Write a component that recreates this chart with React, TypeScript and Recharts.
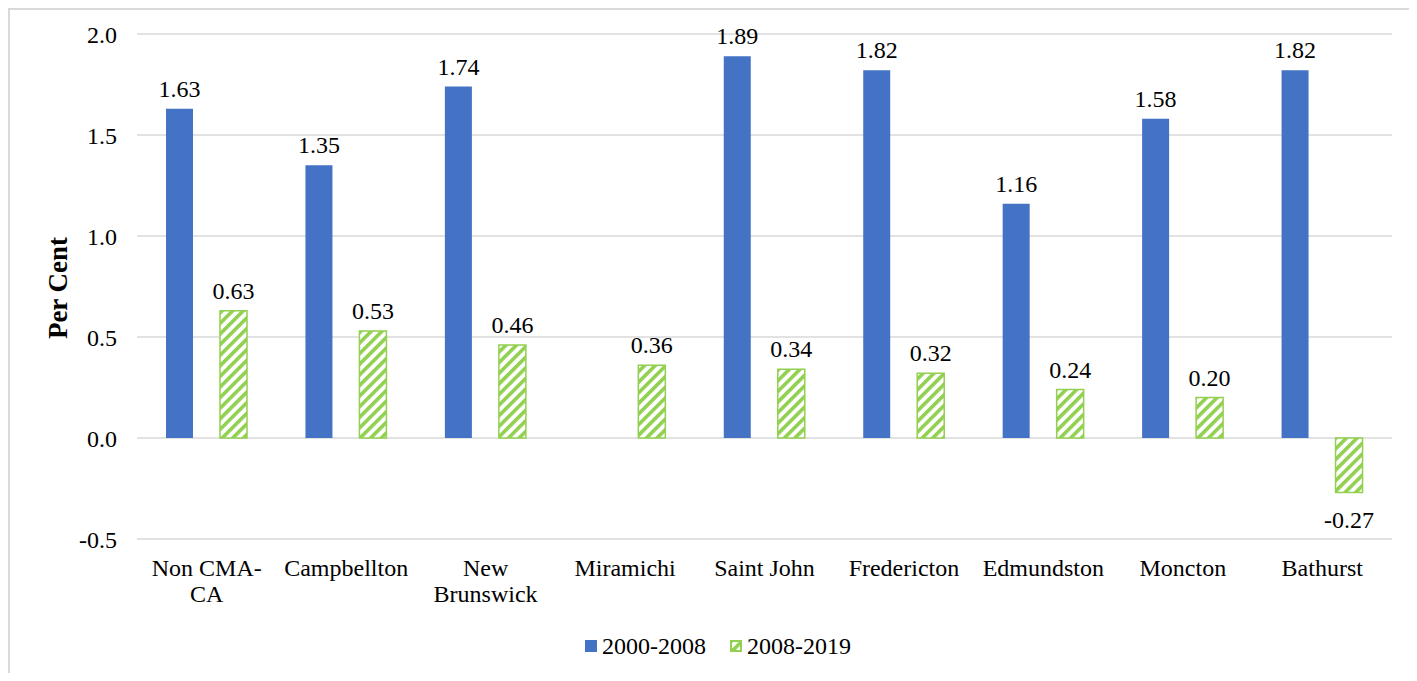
import { BarChart, Bar, XAxis, YAxis, CartesianGrid, LabelList, Legend } from 'recharts';

const categories = ['Non CMA-CA', 'Campbellton', 'New Brunswick', 'Miramichi', 'Saint John', 'Fredericton', 'Edmundston', 'Moncton', 'Bathurst'];
const period2000 = [1.63, 1.35, 1.74, null, 1.89, 1.82, 1.16, 1.58, 1.82];
const period2008 = [0.63, 0.53, 0.46, 0.36, 0.34, 0.32, 0.24, 0.2, -0.27];
const yTicks = [-0.5, 0, 0.5, 1.0, 1.5, 2.0];

// wrapped x labels, as Excel broke them
const tickLines: Record<string, string[]> = {
  'Non CMA-CA': ['Non CMA-', 'CA'],
  'New Brunswick': ['New', 'Brunswick'],
};

const data = categories.map((name, i) => ({ name, a: period2000[i], b: period2008[i] }));

const BLUE = '#4472C4';
const GREEN = '#92D050';
const GRID = '#d9d9d9';
const FONT = 'Liberation Serif, Times New Roman, serif';
const FS = 24;

function CategoryTick({ x, y, payload }: any) {
  const lines = tickLines[payload.value] ?? [payload.value];
  return (
    <text x={x} y={y} textAnchor="middle" fontSize={FS} fill="#000" fontFamily={FONT}>
      {lines.map((line, i) => (
        <tspan key={i} x={x} dy={i === 0 ? 29 : 26}>{line}</tspan>
      ))}
    </text>
  );
}

function YLabel() {
  return (
    <text x={58} y={288} transform="rotate(-90, 58, 288)" textAnchor="middle" dominantBaseline="central"
      fontSize={27} fontWeight="bold" fill="#000" fontFamily={FONT}>
      Per Cent
    </text>
  );
}

// value label above positive bars, below negative ones
function ValueLabel({ x, y, width, height, value }: any) {
  if (value == null) return null;
  const top = Math.min(y, y + height);
  const bottom = Math.max(y, y + height);
  const ty = value >= 0 ? top - 12 : bottom + 35;
  return (
    <text x={x + width / 2} y={ty} textAnchor="middle" fontSize={FS} fill="#000" fontFamily={FONT}>
      {Number(value).toFixed(2)}
    </text>
  );
}

function LegendContent() {
  return (
    <div style={{ display: 'flex', justifyContent: 'center', alignItems: 'center', paddingLeft: 19, fontFamily: FONT, fontSize: FS, color: '#000', height: 30 }}>
      <svg width={12} height={12} style={{ marginRight: 5 }}>
        <rect width={12} height={12} fill={BLUE} />
      </svg>
      <span>2000-2008</span>
      <svg width={12} height={12} style={{ marginLeft: 24, marginRight: 5 }}>
        <defs>
          <pattern id="hatchLegend" width={7.5} height={7.5} patternUnits="userSpaceOnUse" patternTransform="rotate(45)">
            <rect width={7.5} height={7.5} fill="#fff" />
            <rect width={3.6} height={7.5} fill={GREEN} />
          </pattern>
        </defs>
        <rect width={12} height={12} fill={GREEN} />
        <rect x={2} y={2} width={8} height={8} fill="url(#hatchLegend)" />
      </svg>
      <span>2008-2019</span>
    </div>
  );
}

export default function App() {
  return (
    <div style={{ position: 'relative', width: 1417, height: 681, margin: -8, overflow: 'hidden', background: '#fff', fontFamily: FONT }}>
      <BarChart width={1417} height={681} data={data} margin={{ top: 34, right: 25, bottom: 20, left: 0 }} barGap={27}>
        <defs>
          <pattern id="hatch" width={7.5} height={7.5} patternUnits="userSpaceOnUse" patternTransform="rotate(45)">
            <rect width={7.5} height={7.5} fill="#fff" />
            <rect width={3.6} height={7.5} fill={GREEN} />
          </pattern>
        </defs>
        <CartesianGrid vertical={false} stroke={GRID} strokeWidth={1.5} />
        <XAxis dataKey="name" interval={0} tickLine={false} axisLine={false} height={92} tick={<CategoryTick />} />
        <YAxis width={137} domain={[-0.5, 2]} ticks={yTicks} tickLine={false} axisLine={false} tickSize={0} tickMargin={20}
          tickFormatter={(v: number) => v.toFixed(1)} tick={{ fontSize: FS, fill: '#000', fontFamily: FONT }}
          label={<YLabel />} />
        <Legend verticalAlign="bottom" height={30} content={<LegendContent />} wrapperStyle={{ left: 0, width: 1417 }} />
        <Bar dataKey="a" name="2000-2008" fill={BLUE} barSize={27} isAnimationActive={false}>
          <LabelList dataKey="a" content={<ValueLabel />} />
        </Bar>
        <Bar dataKey="b" name="2008-2019" fill="url(#hatch)" stroke={GREEN} strokeWidth={1.5} barSize={27} isAnimationActive={false}>
          <LabelList dataKey="b" content={<ValueLabel />} />
        </Bar>
      </BarChart>
      {/* chart frame; only its top and left edges are in the picture */}
      <div style={{ position: 'absolute', left: 8, top: 8, width: 1409, height: 2, background: GRID, zIndex: 5 }} />
      <div style={{ position: 'absolute', left: 8, top: 8, width: 2, height: 673, background: GRID, zIndex: 5 }} />
    </div>
  );
}
